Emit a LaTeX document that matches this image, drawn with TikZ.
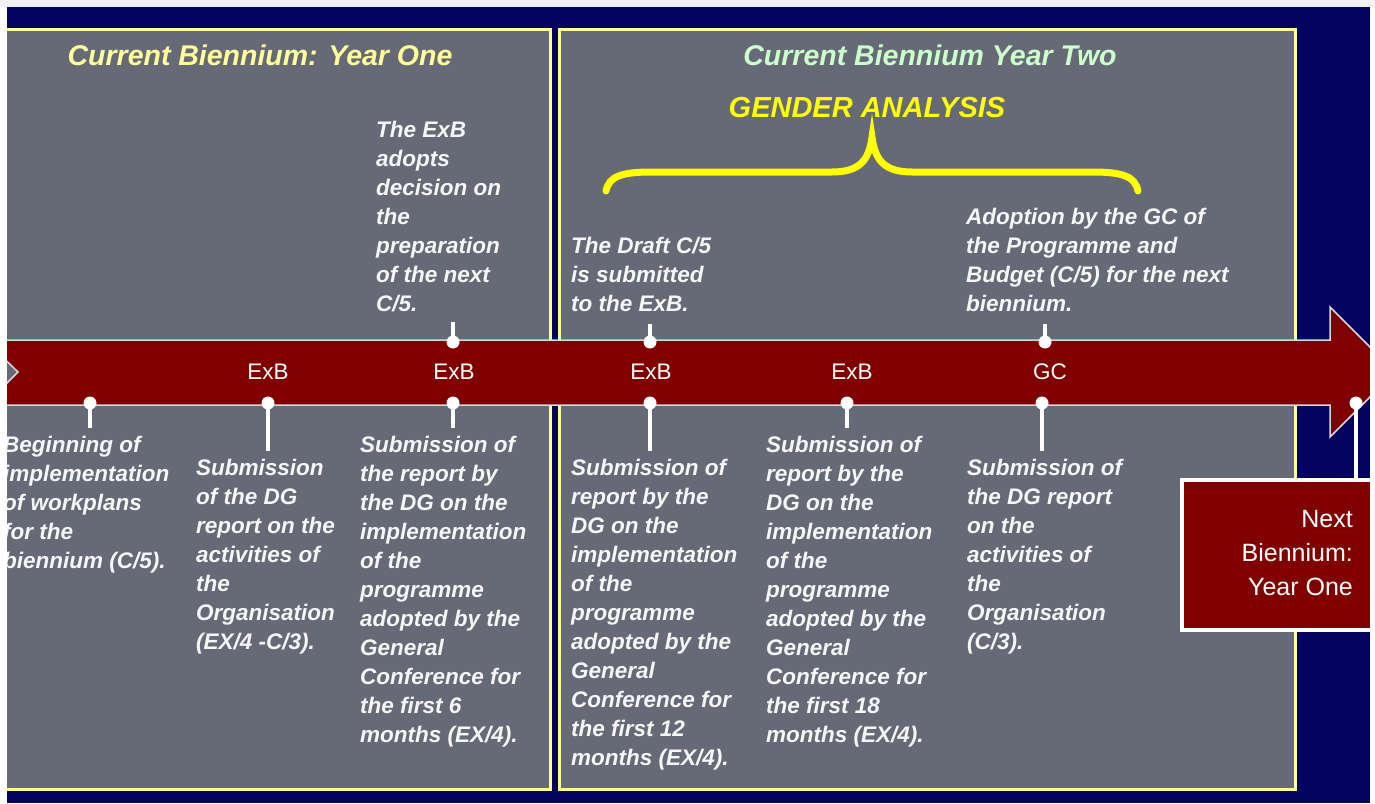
\documentclass[tikz,border=0pt]{standalone}
\usepackage{fontspec}
\setmainfont{Liberation Sans}
\setsansfont{Liberation Sans}
\definecolor{navy}{RGB}{4,4,96}
\definecolor{panelgray}{RGB}{102,106,118}
\definecolor{paleyellow}{RGB}{255,255,153}
\definecolor{palegreen}{RGB}{204,255,204}
\definecolor{brightyellow}{RGB}{255,255,0}
\definecolor{dkred}{RGB}{128,0,0}
\definecolor{textwhite}{RGB}{246,246,246}
\definecolor{edgegray}{RGB}{215,215,220}
\tikzset{
  panel/.style={fill=panelgray, draw=paleyellow, line width=3pt},
  title/.style={font=\fontsize{28.5}{34}\selectfont\bfseries\itshape, inner sep=0},
  bandlabel/.style={text=white, font=\fontsize{22.5}{27}\selectfont, inner sep=0},
  desc/.style={text=textwhite, font=\fontsize{22.5}{29}\selectfont\bfseries\itshape, align=left, anchor=north west, inner sep=0},
  stem/.style={draw=white, line width=4.5pt},
  pindot/.style={fill=white},
  bracestyle/.style={draw=brightyellow, line width=7pt, line cap=round},
  arrowband/.style={fill=dkred, draw=edgegray, line width=1.5pt},
}
\newcommand{\fl}{\rule{0pt}{16.5pt}}
\begin{document}
\begin{tikzpicture}[x=1pt,y=-1pt]
\useasboundingbox (0,0) rectangle (1375,803);
% background
\fill[navy] (0,0) rectangle (1375,803);
% panels
\draw[panel] (2,29.5) rectangle (550,789.5);
\draw[panel] (559.5,29.5) rectangle (1295,789.5);
% titles
\node[title, text=paleyellow] (t1) at (260,55) {Current Biennium: Year One};
\node[title, text=palegreen] (t2) at (930,55) {Current Biennium Year Two};
\node[title, text=brightyellow, font=\fontsize{29}{34}\selectfont\bfseries\itshape] (ga) at (867,108) {GENDER ANALYSIS};
% brace
\draw[bracestyle] (606,191) .. controls (609,176) and (622,172) .. (652,172) -- (832,172)
  .. controls (860,172) and (869,160) .. (872,137)
  .. controls (875,160) and (884,172) .. (912,172) -- (1092,172)
  .. controls (1122,172) and (1135,176) .. (1138,191);
% arrow band
\draw[arrowband] (-15,340) -- (1330,340) -- (1330,307) -- (1395,372) -- (1330,437) -- (1330,405) -- (-15,405) -- (18,372) -- cycle;
% band labels
\node[bandlabel] (b2) at (268,372) {ExB};
\node[bandlabel] (b3) at (454,372) {ExB};
\node[bandlabel] (b4) at (651,372) {ExB};
\node[bandlabel] (b5) at (852,372) {ExB};
\node[bandlabel] (b6) at (1050,372) {GC};
% lower pins
\coordinate (d1) at (90,403);   \coordinate (e1) at (90,428);
\coordinate (d2) at (268,403);  \coordinate (e2) at (268,451);
\coordinate (d3) at (453,403);  \coordinate (e3) at (453,428);
\coordinate (d4) at (650,403);  \coordinate (e4) at (650,451);
\coordinate (d5) at (847,403);  \coordinate (e5) at (847,428);
\coordinate (d6) at (1042,403); \coordinate (e6) at (1042,451);
\coordinate (d7) at (1356,403);
% upper pins
\coordinate (u3) at (453,342);  \coordinate (v3) at (453,322);
\coordinate (u4) at (650,342);  \coordinate (v4) at (650,324);
\coordinate (u6) at (1045,342); \coordinate (v6) at (1045,324);
% next biennium box
\node[draw=white, line width=4pt, fill=dkred, minimum width=230pt, minimum height=150pt, anchor=north west, inner sep=0] (nextbox) at (1180,478) {};
\node[text=white, font=\fontsize{25}{34}\selectfont, align=right, anchor=north east, inner sep=0] (nexttxt) at (1353,509) {\rule{0pt}{18pt}Next\\Biennium:\\Year One};
% stems
\draw[stem] (d1) -- (e1);
\draw[stem] (d2) -- (e2);
\draw[stem] (d3) -- (e3);
\draw[stem] (d4) -- (e4);
\draw[stem] (d5) -- (e5);
\draw[stem] (d6) -- (e6);
\draw[stem] (d7) -- (nextbox.north -| d7);
\draw[stem] (u3) -- (v3);
\draw[stem] (u4) -- (v4);
\draw[stem] (u6) -- (v6);
\foreach \p in {d1,d2,d3,d4,d5,d6,d7,u3,u4,u6} \fill[pindot] (\p) circle (6.5);
% upper texts
\node[desc] (up3) at (376,121) {\fl The ExB\\adopts\\decision on\\the\\preparation\\of the next\\C/5.};
\node[desc] (up4) at (571,237) {\fl The Draft C/5\\is submitted\\to the ExB.};
\node[desc] (up6) at (966,208) {\fl Adoption by the GC of\\the Programme and\\Budget (C/5) for the next\\biennium.};
% lower texts
\node[desc] (lo1) at (3,436) {\fl Beginning of\\implementation\\of workplans\\for the\\biennium (C/5).};
\node[desc] (lo2) at (196,459) {\fl Submission\\of the DG\\report on the\\activities of\\the\\Organisation\\(EX/4 -C/3).};
\node[desc] (lo3) at (360,436) {\fl Submission of\\the report by\\the DG on the\\implementation\\of the\\programme\\adopted by the\\General\\Conference for\\the first 6\\months (EX/4).};
\node[desc] (lo4) at (571,459) {\fl Submission of\\report by the\\DG on the\\implementation\\of the\\programme\\adopted by the\\General\\Conference for\\the first 12\\months (EX/4).};
\node[desc] (lo5) at (766,436) {\fl Submission of\\report by the\\DG on the\\implementation\\of the\\programme\\adopted by the\\General\\Conference for\\the first 18\\months (EX/4).};
\node[desc] (lo6) at (967,459) {\fl Submission of\\the DG report\\on the\\activities of\\the\\Organisation\\(C/3).};
% screen edges
\fill[white] (0,0) rectangle (7,803);
\fill[white] (1370,0) rectangle (1375,803);
\fill[gray!10] (0,0) rectangle (1375,7);
\end{tikzpicture}
\end{document}
